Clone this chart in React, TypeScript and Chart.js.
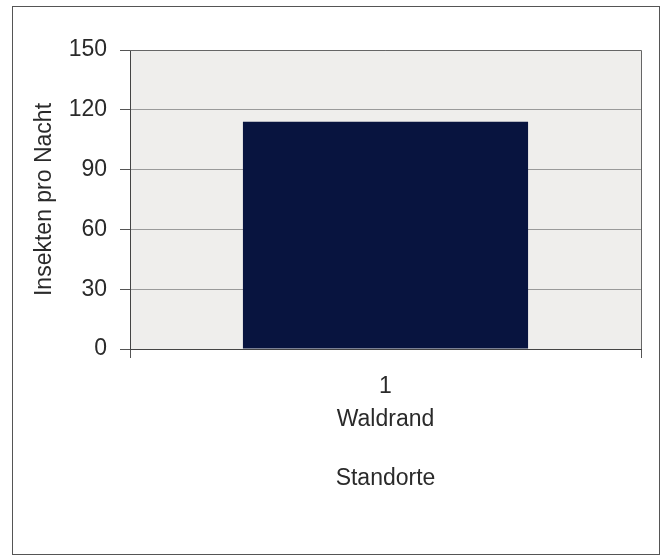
import React, { useEffect, useRef } from "react";
import { Chart, registerables } from "chart.js";

Chart.register(...registerables);

const categories: string[][] = [["1", "Waldrand"]];
const values: number[] = [114];
const yTicks: number[] = [0, 30, 60, 90, 120, 150];
const yTitle = "Insekten pro Nacht";
const xTitle = "Standorte";

const FONT = "'Liberation Sans', Arial, Helvetica, sans-serif";

const decorPlugin = {
  id: "decor",
  beforeDraw(chart: any) {
    const { ctx, chartArea } = chart;
    ctx.save();
    ctx.fillStyle = "#ffffff";
    ctx.fillRect(0, 0, chart.width, chart.height);
    ctx.fillStyle = "#efeeec";
    ctx.fillRect(chartArea.left, chartArea.top, chartArea.right - chartArea.left, chartArea.bottom - chartArea.top);
    ctx.restore();
  },
  afterDraw(chart: any) {
    const { ctx, chartArea } = chart;
    ctx.save();
    ctx.strokeStyle = "#666";
    ctx.lineWidth = 1;
    ctx.beginPath();
    ctx.moveTo(chartArea.left, chartArea.top + 0.5);
    ctx.lineTo(chartArea.right + 0.5, chartArea.top + 0.5);
    ctx.lineTo(chartArea.right + 0.5, chartArea.bottom);
    ctx.stroke();
    ctx.strokeStyle = "#555";
    ctx.strokeRect(12.5, 6.5, 647, 548);
    ctx.restore();
  },
};

export default function App() {
  const ref = useRef<HTMLCanvasElement | null>(null);
  useEffect(() => {
    if (!ref.current) return;
    const chart = new Chart(ref.current, {
      type: "bar",
      data: {
        labels: categories,
        datasets: [
          {
            data: values,
            backgroundColor: "#08143f",
            borderWidth: 0,
            categoryPercentage: 1,
            barPercentage: 0.558,
          },
        ],
      },
      options: {
        responsive: false,
        animation: false,
        layout: { padding: { left: 0, top: 50, right: 20, bottom: 0 } },
        plugins: { legend: { display: false }, tooltip: { enabled: false } },
        scales: {
          x: {
            offset: true,
            grid: {
              display: true,
              offset: true,
              drawOnChartArea: false,
              color: "#555",
              tickColor: "#555",
              tickLength: 9,
            },
            border: { display: true, color: "#444", width: 1 },
            ticks: {
              color: "#2a2a2a",
              font: { family: FONT, size: 23, lineHeight: 1.4 },
              padding: 13,
              maxRotation: 0,
            },
            title: {
              display: true,
              text: xTitle,
              color: "#2a2a2a",
              font: { family: FONT, size: 23, lineHeight: 1.2 },
              padding: { top: 0, bottom: 64 },
            },
            afterFit(scale: any) {
              scale.height = 207;
            },
          },
          y: {
            min: yTicks[0],
            max: yTicks[yTicks.length - 1],
            grid: {
              color: "#9a9a9a",
              tickColor: "#555",
              tickLength: 10,
            },
            border: { display: true, color: "#444", width: 1 },
            ticks: {
              stepSize: yTicks[1] - yTicks[0],
              color: "#2a2a2a",
              font: { family: FONT, size: 23 },
              padding: 13,
            },
            title: {
              display: true,
              text: yTitle,
              color: "#2a2a2a",
              font: { family: FONT, size: 23, lineHeight: 1.2 },
              padding: { top: 31, bottom: 0 },
            },
            afterFit(scale: any) {
              scale.width = 130;
            },
          },
        },
      },
      plugins: [decorPlugin],
    });
    return () => chart.destroy();
  }, []);
  return (
    <div style={{ position: "absolute", left: 0, top: 0, width: 661, height: 556 }}>
      <canvas ref={ref} width={661} height={556} style={{ display: "block" }} />
    </div>
  );
}
